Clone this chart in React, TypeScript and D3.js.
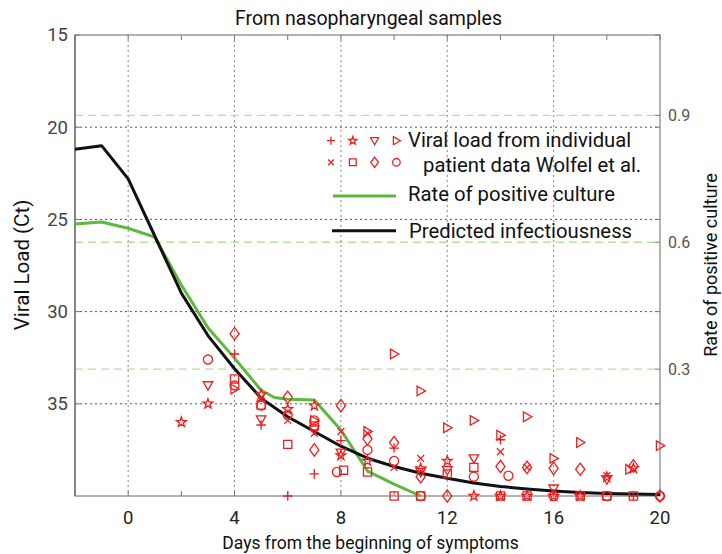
import React from 'react';
import * as d3 from 'd3';

// ---------- data ----------
const predDays = [-2, -1, 0, 1, 2, 3, 4, 5, 6, 7, 8, 9, 10, 11, 12, 13, 14, 15, 16, 17, 18, 19, 20];
const predictedCt = [21.2, 21.0, 22.8, 25.9, 29.0, 31.3, 33.1, 34.7, 35.7, 36.5, 37.3, 37.95, 38.4, 38.77, 39.04, 39.3, 39.48, 39.62, 39.73, 39.81, 39.86, 39.89, 39.92];

const cultureDays = [-2, -1, 0, 1, 2, 3, 4, 5, 5.5, 6, 7, 8, 9, 10, 11];
const cultureRate = [0.643, 0.648, 0.633, 0.612, 0.499, 0.398, 0.326, 0.25, 0.233, 0.229, 0.227, 0.156, 0.059, 0.028, 0.0];

const plusPts = [[4, 32.3], [5, 36.15], [6, 40], [7, 38.8], [8, 37.0], [10, 37.4], [14, 36.95], [19, 40]];
const starPts = [[2, 36.0], [3, 35.0], [5, 34.5], [6, 35.3], [7, 35.1], [8, 37.8], [9, 38.1], [11, 38.5], [12, 38.1], [13, 40], [14, 40], [15, 40], [16, 40], [17, 40], [18, 38.98], [19, 38.5]];
const triDownPts = [[3, 34.0], [5, 35.85], [7, 36.4], [8, 37.65], [11, 38.7], [12, 38.6], [13, 37.96], [16, 39.6], [18, 39.1]];
const triRightPts = [[4, 34.2], [7, 35.9], [9, 36.5], [10, 32.3], [11, 34.3], [12, 36.3], [13, 35.9], [14, 36.7], [15, 35.7], [16, 37.96], [17, 37.1], [18.85, 38.55], [20, 37.27]];
const crossPts = [[5, 34.7], [6, 35.9], [7, 36.6], [8, 36.5], [9, 36.6], [10, 38.45], [11, 37.96], [14, 37.6], [15, 38.45], [18, 38.9]];
const squarePts = [[4, 33.65], [5, 35.07], [6, 37.2], [7, 36.2], [8.1, 38.6], [9, 38.7], [10, 40], [11, 40], [12, 38.8], [13, 38.45], [14, 40], [15, 40], [17, 40], [18, 40], [19, 40]];
const diamondPts = [[4, 31.2], [6, 34.65], [7, 37.5], [8, 35.1], [9, 36.9], [10, 37.1], [11, 38.95], [12, 40], [14, 38.4], [15, 38.45], [16, 38.5], [17, 38.55], [19, 38.37], [20, 40]];
const circlePts = [[3, 32.6], [4, 34.0], [5, 35.1], [6, 35.6], [7, 35.9], [7.85, 38.7], [9, 37.5], [10, 38.1], [11, 40], [13, 38.95], [14.3, 38.9], [16, 40], [18, 40], [20, 40]];

const xTicks = [0, 4, 8, 12, 16, 20];
const xMinorTicks = [-2, 0, 2, 4, 6, 8, 10, 12, 14, 16, 18, 20];
const yTicks = [15, 20, 25, 30, 35];
const rateTicks = [0.3, 0.6, 0.9];

const titleText = 'From nasopharyngeal samples';
const xLabel = 'Days from the beginning of symptoms';
const yLabel = 'Viral Load (Ct)';
const rLabel = 'Rate of positive culture';
const legendScatter1 = 'Viral load from individual';
const legendScatter2 = 'patient data Wolfel et al.';
const legendCulture = 'Rate of positive culture';
const legendPred = 'Predicted infectiousness';

// ---------- layout ----------
const W = 722, H = 554;
const L = 75, R = 660, T = 35, B = 496;
const FONT = 'Roboto, "Liberation Sans", sans-serif';
const RED = '#f01e1e';
const GREEN = '#5db83e';

function markerPath(type: string, r: number): string {
  switch (type) {
    case 'plus':
      return `M${-r},0H${r}M0,${-r}V${r}`;
    case 'cross': {
      const a = r * 0.72;
      return `M${-a},${-a}L${a},${a}M${-a},${a}L${a},${-a}`;
    }
    case 'star': {
      const pts: string[] = [];
      for (let i = 0; i < 10; i++) {
        const ang = -Math.PI / 2 + (i * Math.PI) / 5;
        const rr = i % 2 === 0 ? r * 1.08 : r * 0.43;
        pts.push(`${(rr * Math.cos(ang)).toFixed(2)},${(rr * Math.sin(ang)).toFixed(2)}`);
      }
      return 'M' + pts.join('L') + 'Z';
    }
    case 'triDown':
      return `M${-r},${-r * 0.75}L${r},${-r * 0.75}L0,${r}Z`;
    case 'triRight':
      return `M${-r * 0.75},${-r}L${-r * 0.75},${r}L${r},0Z`;
    case 'square': {
      const s = r * 0.85;
      return `M${-s},${-s}H${s}V${s}H${-s}Z`;
    }
    case 'diamond':
      return `M0,${-r * 1.3}L${r * 0.95},0L0,${r * 1.3}L${-r * 0.95},0Z`;
    case 'circle':
    default: {
      const c = r * 0.95;
      return `M${c},0A${c},${c} 0 1,1 ${-c},0A${c},${c} 0 1,1 ${c},0Z`;
    }
  }
}

const seriesList = [
  { type: 'plus', pts: plusPts },
  { type: 'star', pts: starPts },
  { type: 'triDown', pts: triDownPts },
  { type: 'triRight', pts: triRightPts },
  { type: 'cross', pts: crossPts },
  { type: 'square', pts: squarePts },
  { type: 'diamond', pts: diamondPts },
  { type: 'circle', pts: circlePts },
];

export default function App() {
  const x = d3.scaleLinear().domain([-2, 20]).range([L, R]);
  const y = d3.scaleLinear().domain([15, 40]).range([T, B]);
  const yr = d3.scaleLinear().domain([0, 1.09]).range([B, T]);

  const predLine = d3.line<number>().x((_, i) => x(predDays[i])).y((d) => y(d));
  const cultLine = d3.line<number>().x((_, i) => x(cultureDays[i])).y((d) => yr(d));

  const MR = 4.8;

  return (
    <svg width={W} height={H} style={{ position: 'absolute', left: 0, top: 0, background: '#fff' }} fontFamily={FONT}>
      <rect x={0} y={0} width={W} height={H} fill="#fff" />
      {/* title */}
      <text x={(L + R) / 2 + 1} y={25} textAnchor="middle" fontSize={19.5} fill="#111">{titleText}</text>

      {/* grid: vertical */}
      {xTicks.filter((t) => t < 20).map((t) => (
        <line key={'vg' + t} x1={x(t)} x2={x(t)} y1={T} y2={B} stroke="#888" strokeWidth={1} strokeDasharray="2,3" />
      ))}
      {/* grid: horizontal Ct */}
      {yTicks.filter((t) => t > 15).map((t) => (
        <line key={'hg' + t} x1={L} x2={R} y1={y(t)} y2={y(t)} stroke="#555" strokeWidth={1} strokeDasharray="2,3" />
      ))}
      {/* grid: rate (green dashed) */}
      {rateTicks.map((t) => (
        <line key={'rg' + t} x1={L} x2={R} y1={yr(t)} y2={yr(t)} stroke="#b3e29b" strokeWidth={1.3} strokeDasharray="8,5" />
      ))}

      {/* axes box */}
      <rect x={L} y={T} width={R - L} height={B - T} fill="none" stroke="#8a8a8a" strokeWidth={1.3} />
      <line x1={L} x2={L} y1={T} y2={B} stroke="#777" strokeWidth={1.5} />

      {/* ticks */}
      {xMinorTicks.map((t) => (
        <g key={'xt' + t}>
          <line x1={x(t)} x2={x(t)} y1={B} y2={B - 5} stroke="#777" strokeWidth={1} />
          <line x1={x(t)} x2={x(t)} y1={T} y2={T + 5} stroke="#777" strokeWidth={1} />
        </g>
      ))}
      {yTicks.map((t) => (
        <g key={'yt' + t}>
          <line x1={L} x2={L + 5} y1={y(t)} y2={y(t)} stroke="#777" strokeWidth={1} />
          <line x1={R} x2={R - 5} y1={y(t)} y2={y(t)} stroke="#777" strokeWidth={1} />
        </g>
      ))}
      {rateTicks.map((t) => (
        <line key={'rt' + t} x1={R} x2={R - 5} y1={yr(t)} y2={yr(t)} stroke="#777" strokeWidth={1} />
      ))}

      {/* tick labels */}
      {xTicks.map((t) => (
        <text key={'xl' + t} x={x(t)} y={523.5} textAnchor="middle" fontSize={18.5} fill="#222">{t}</text>
      ))}
      {yTicks.map((t) => (
        <text key={'yl' + t} x={68} y={y(t)} dy="0.35em" textAnchor="end" fontSize={18.5} fill="#444">{t}</text>
      ))}
      {rateTicks.map((t) => (
        <text key={'rl' + t} x={668} y={yr(t)} dy="0.35em" textAnchor="start" fontSize={16} fill="#555">{t}</text>
      ))}

      {/* axis labels */}
      <text x={(L + R) / 2 + 3} y={549} textAnchor="middle" fontSize={17.5} fill="#111">{xLabel}</text>
      <text transform={`translate(29,${265}) rotate(-90)`} textAnchor="middle" fontSize={20.5} fill="#111">{yLabel}</text>
      <text transform={`translate(717,${265}) rotate(-90)`} textAnchor="middle" fontSize={18} fill="#111">{rLabel}</text>

      {/* lines */}
      <path d={cultLine(cultureRate) || ''} fill="none" stroke={GREEN} strokeWidth={3} strokeLinejoin="round" />
      <path d={predLine(predictedCt) || ''} fill="none" stroke="#111" strokeWidth={3} strokeLinejoin="round" />

      {/* scatter */}
      {seriesList.map((s) => (
        <g key={s.type}>
          {s.pts.map((p, i) => (
            <path key={i} d={markerPath(s.type, MR)} transform={`translate(${x(p[0])},${y(p[1])})`} fill="none" stroke={RED} strokeWidth={1.3} />
          ))}
        </g>
      ))}

      {/* legend */}
      {seriesList.map((s, i) => (
        <path key={'lg' + s.type} d={markerPath(s.type, 4)} transform={`translate(${331 + (i % 4) * 21.8},${i < 4 ? 140.7 : 162.3})`} fill="none" stroke={RED} strokeWidth={1.3} />
      ))}
      <text x={408} y={146.7} fontSize={20.3} fill="#111">{legendScatter1}</text>
      <text x={423} y={171.5} fontSize={20.3} fill="#111">{legendScatter2}</text>
      <line x1={333} x2={396} y1={196} y2={196} stroke={GREEN} strokeWidth={3} />
      <text x={408} y={201} fontSize={20.3} fill="#111">{legendCulture}</text>
      <line x1={332} x2={396} y1={230.7} y2={230.7} stroke="#111" strokeWidth={3} />
      <text x={409} y={237.5} fontSize={20.3} fill="#111">{legendPred}</text>
    </svg>
  );
}
